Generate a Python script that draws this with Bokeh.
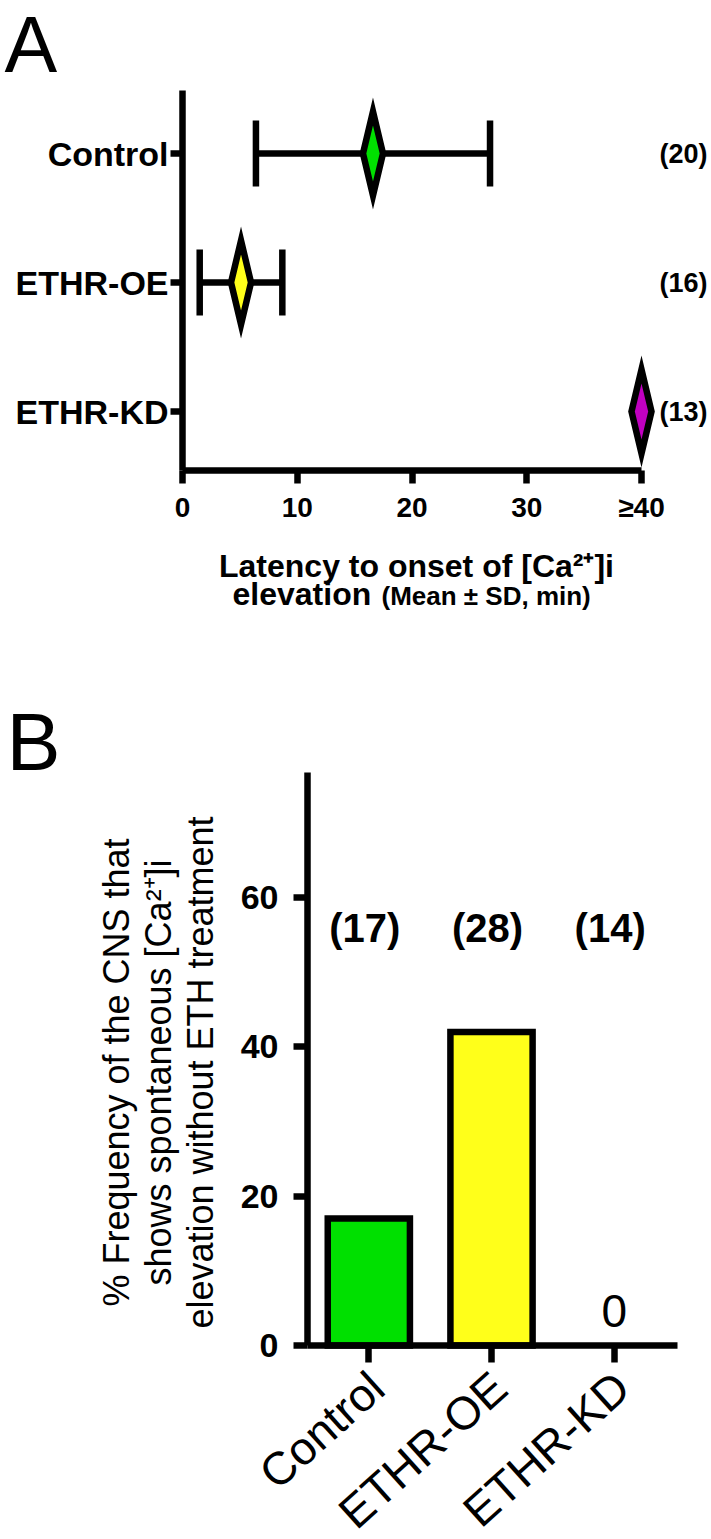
import math
from bokeh.plotting import figure
from bokeh.models import Range1d, FixedTicker, Label
from bokeh.layouts import column
from bokeh.embed import file_html
from bokeh.resources import INLINE
from bokeh.core.properties import value

# ---------------- data ----------------
groups = ["Control", "ETHR-OE", "ETHR-KD"]
group_colors = ["#00e000", "#ffff1a", "#c000c0"]

latency_mean = [16.6, 5.1, 40.0]
latency_sd = [10.2, 3.6, 0.0]
latency_n = ["(20)", "(16)", "(13)"]
latency_ticks = [0, 10, 20, 30, 40]
latency_tick_labels = ["0", "10", "20", "30", "≥40"]

freq_pct = [17.0, 42.0, 0.0]
freq_n = ["(17)", "(28)", "(14)"]
freq_ticks = [0, 20, 40, 60]

FONT = "Liberation Sans"
LW = 6.5
W = 711

def style_axis(ax):
    ax.axis_line_width = LW
    ax.major_tick_line_width = LW
    ax.major_tick_in = 0
    ax.minor_tick_in = 0
    ax.minor_tick_out = 0
    ax.major_label_text_font = FONT
    ax.major_label_text_color = "black"

def label(p, x, y, text, size, bold=False, align="left", baseline="middle", angle=0.0):
    p.add_layout(Label(x=x, y=y, text=text, text_align=align, text_baseline=baseline,
                       angle=angle, text_font=FONT, text_font_size=size,
                       text_font_style="bold" if bold else "normal", text_color="black"))

# ---------------- panel A (page y 0..692) ----------------
A_TOP, A_H = 0, 692
A_PX0, A_PXU = 182.0, 11.475      # page x of 0 min, px per minute
cat_y = [len(groups) - i for i in range(len(groups))]
A_PYC, A_PYU = 153.0, 129.0       # page y of first category, px per category

def xA(px):
    return (px - A_PX0) / A_PXU

def yA(py):
    return cat_y[0] - (py - A_PYC) / A_PYU

pA = figure(frame_width=W, frame_height=A_H, min_border=0,
            x_range=Range1d(xA(0), xA(W)), y_range=Range1d(yA(A_TOP + A_H), yA(A_TOP)),
            output_backend="svg", toolbar_location=None)
pA.outline_line_color = None
pA.grid.visible = False

y_axis_bottom = yA(470)
y_axis_top = yA(90)

# error bars
eb = [(m, s, y) for m, s, y in zip(latency_mean, latency_sd, cat_y) if s > 0]
pA.segment(x0=[m - s for m, s, y in eb], x1=[m + s for m, s, y in eb],
           y0=[y for m, s, y in eb], y1=[y for m, s, y in eb],
           line_color="black", line_width=LW)
pA.scatter(x=[m - s for m, s, y in eb] + [m + s for m, s, y in eb],
           y=[y for m, s, y in eb] * 2, marker="dash", angle=math.pi / 2, size=66,
           line_color="black", line_width=LW)

# diamonds (mean markers)
hw = 10.0 / A_PXU
hh = 42.0 / A_PYU
pA.patches(xs=[[m - hw, m, m + hw, m] for m in latency_mean],
           ys=[[y, y + hh, y, y - hh] for y in cat_y],
           fill_color=group_colors, line_color="black", line_width=LW, line_join="miter")

# axes
xa = pA.xaxis[0]
style_axis(xa)
xa.fixed_location = y_axis_bottom
xa.ticker = FixedTicker(ticks=latency_ticks)
xa.major_label_overrides = {t: l for t, l in zip(latency_ticks, latency_tick_labels)}
xa.bounds = (latency_ticks[0], latency_ticks[-1])
xa.major_tick_out = 13
xa.major_label_standoff = 8
xa.major_label_text_font_style = "bold"
xa.major_label_text_font_size = "28px"

ya = pA.yaxis[0]
style_axis(ya)
ya.fixed_location = 0
ya.ticker = FixedTicker(ticks=cat_y)
ya.major_label_overrides = {y: g for y, g in zip(cat_y, groups)}
ya.bounds = (y_axis_bottom, y_axis_top)
ya.major_tick_out = 12
ya.major_label_standoff = 2
ya.major_label_text_font_style = "bold"
ya.major_label_text_font_size = "34px"

# n labels
for t, y in zip(latency_n, cat_y):
    label(pA, xA(707), y, t, "27px", bold=True, align="right")

# axis title and panel letter
label(pA, xA(416), yA(565.5), "Latency to onset of [Ca²⁺]i", "32px", bold=True, align="center")
label(pA, xA(232), yA(593.5), "elevation", "32px", bold=True)
label(pA, xA(381), yA(595.5), "(Mean ± SD, min)", "26px", bold=True)
label(pA, xA(4), yA(44), "A", "79px")

# ---------------- panel B (page y 692..1539) ----------------
B_TOP = A_TOP + A_H
B_H = 1539 - B_TOP
B_PX0, B_PXU = 307.0, 122.67      # page x of category axis start, px per category
B_PY0, B_PYU = 1345.0, 7.467      # page y of 0 %, px per %

def xB(px):
    return (px - B_PX0) / B_PXU

def yB(py):
    return (B_PY0 - py) / B_PYU

cat_x = [i + 0.5 for i in range(len(groups))]

pB = figure(frame_width=W, frame_height=B_H, min_border=0,
            x_range=Range1d(xB(0), xB(W)), y_range=Range1d(yB(B_TOP + B_H), yB(B_TOP)),
            output_backend="svg", toolbar_location=None)
pB.outline_line_color = None
pB.grid.visible = False

bars = [(x, v, c) for x, v, c in zip(cat_x, freq_pct, group_colors) if v > 0]
pB.vbar(x=[b[0] for b in bars], top=[b[1] for b in bars], width=0.67, bottom=0,
        fill_color=[b[2] for b in bars], line_color="black", line_width=LW, line_join="miter")

zero = [(x, v) for x, v in zip(cat_x, freq_pct) if v == 0]
pB.text(x=[z[0] for z in zero], y=[z[1] for z in zero], text=[f"{z[1]:g}" for z in zero],
        text_align="center", text_baseline="middle", y_offset=-35,
        text_font=value(FONT), text_font_size="46px", text_color="black")

pB.text(x=cat_x, y=[yB(927)] * len(groups), text=freq_n, x_offset=-4,
        text_align="center", text_baseline="middle",
        text_font=value(FONT), text_font_style="bold", text_font_size="40px", text_color="black")

xb = pB.xaxis[0]
style_axis(xb)
xb.fixed_location = 0
xb.ticker = FixedTicker(ticks=cat_x)
xb.major_label_overrides = {x: "" for x in cat_x}
xb.bounds = (0, xB(677))
xb.major_tick_out = 17

# rotated category labels (ends anchored just right of and below each tick)
for x, g in zip(cat_x, groups):
    label(pB, x + 8.0 / B_PXU, yB(1380), g, "46px", align="right",
          angle=math.radians(42))

yb = pB.yaxis[0]
style_axis(yb)
yb.fixed_location = 0
yb.ticker = FixedTicker(ticks=freq_ticks)
yb.bounds = (0, yB(772))
yb.major_tick_out = 14
yb.major_label_standoff = 15
yb.major_label_text_font_style = "bold"
yb.major_label_text_font_size = "34px"

ytitle = ["% Frequency of the CNS that", "shows spontaneous [Ca²⁺]i", "elevation without ETH treatment"]
for t, px in zip(ytitle, [116, 158, 200]):
    label(pB, xB(px), yB(1072), t, "36px", align="center", angle=math.pi / 2)
label(pB, xB(6), yB(741), "B", "81px")

layout = column(pA, pB)
open("out.html", "w").write(file_html(layout, INLINE))
